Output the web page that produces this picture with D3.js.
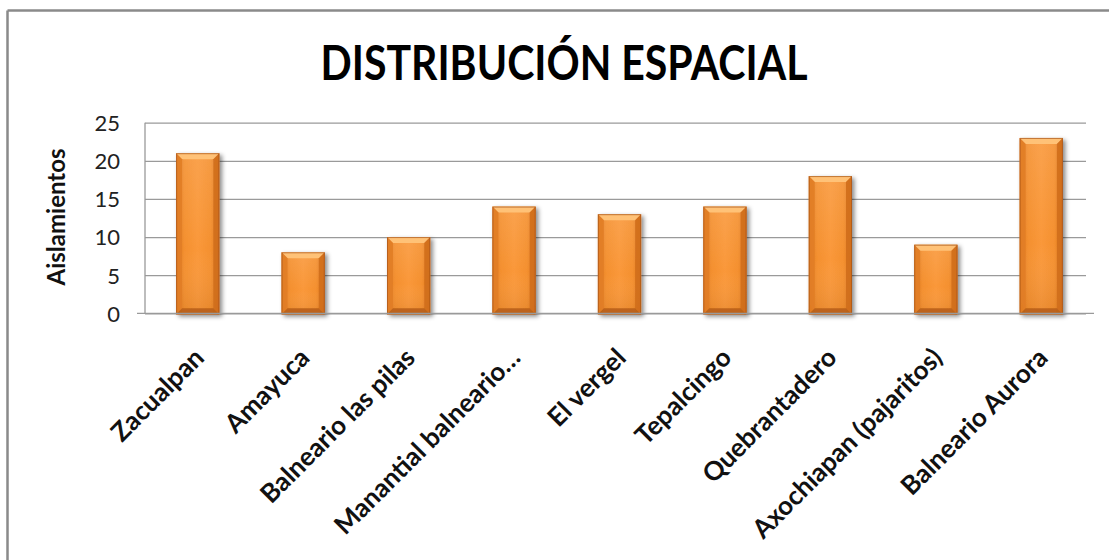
<!DOCTYPE html>
<html>
<head>
<meta charset="utf-8">
<script src="https://cdn.jsdelivr.net/npm/d3@7"></script>
<style>
  html, body { margin: 0; padding: 0; background: #fff; overflow: hidden; }
  svg { display: block; }
</style>
</head>
<body>
<svg id="chart" width="1109" height="560"></svg>
<script>
// Aislamientos por sitio de muestreo
const categories = [
  "Zacualpan", "Amayuca", "Balneario las pilas", "Manantial balneario…",
  "El vergel", "Tepalcingo", "Quebrantadero", "Axochiapan (pajaritos)", "Balneario Aurora"
];
const values = [21, 8, 10, 14, 13, 14, 18, 9, 23];
const yTicks = [0, 5, 10, 15, 20, 25];
const chartTitle = "DISTRIBUCIÓN ESPACIAL";
const yTitle = "Aislamientos";

const svg = d3.select("#chart");
const W = 1109, H = 560;
const plot = { left: 145, right: 1094, top: 122.7, bottom: 313.3 };
const font = "Lato, 'Open Sans', sans-serif";

// chart frame: only its top and left edges fall inside the view
const frame = svg.append("g").attr("stroke", "#8a8a8a").attr("stroke-width", 2.5);
frame.append("line").attr("x1", 7.5).attr("x2", W).attr("y1", 10.5).attr("y2", 10.5);
frame.append("line").attr("x1", 7.5).attr("x2", 7.5).attr("y1", 10.5).attr("y2", H);

const defs = svg.append("defs");
const body = defs.append("linearGradient").attr("id", "barBody")
  .attr("x1", "0").attr("x2", "1").attr("y1", "0").attr("y2", "0");
[["0%", "#e07c25"], ["20%", "#f4902f"], ["50%", "#fa983a"], ["80%", "#f4902f"], ["100%", "#d9741f"]]
  .forEach(([o, c]) => body.append("stop").attr("offset", o).attr("stop-color", c));
const vbody = defs.append("linearGradient").attr("id", "barShade")
  .attr("x1", "0").attr("x2", "0").attr("y1", "0").attr("y2", "1");
[["0%", "#ffffff", 0.10], ["60%", "#ffffff", 0], ["100%", "#7a3a00", 0.12]]
  .forEach(([o, c, a]) => vbody.append("stop").attr("offset", o).attr("stop-color", c).attr("stop-opacity", a));
const shadow = defs.append("filter").attr("id", "barShadow")
  .attr("x", "-20%").attr("y", "-10%").attr("width", "150%").attr("height", "130%");
shadow.append("feDropShadow").attr("dx", 2.5).attr("dy", 2).attr("stdDeviation", 2)
  .attr("flood-color", "#000").attr("flood-opacity", 0.45);

const x = d3.scaleBand().domain(categories)
  .range([plot.left, plot.right]).paddingInner(0.59).paddingOuter(0.295);
const y = d3.scaleLinear().domain([0, 25]).range([plot.bottom, plot.top]);

// gridlines with tick stubs to the left of the value axis
const grid = svg.append("g")
  .attr("transform", `translate(${plot.left},0)`)
  .call(d3.axisLeft(y).tickValues(yTicks).tickSize(-(plot.right - plot.left)).tickFormat(""));
grid.select(".domain").remove();
grid.selectAll(".tick line").attr("stroke", "#9a9a9a").attr("stroke-width", 1.3)
  .attr("x2", -(plot.right - plot.left)).attr("x1", -8)
  .attr("transform", `translate(${plot.right - plot.left},0)`);

// value axis line
svg.append("line")
  .attr("x1", plot.left).attr("x2", plot.left)
  .attr("y1", plot.top).attr("y2", plot.bottom)
  .attr("stroke", "#9a9a9a").attr("stroke-width", 1.3);

// value tick labels
const yAxis = svg.append("g")
  .attr("transform", `translate(${plot.left - 25},0)`)
  .call(d3.axisLeft(y).tickValues(yTicks).tickSize(0).tickPadding(0));
yAxis.select(".domain").remove();
yAxis.selectAll("text")
  .attr("font-family", font).attr("font-size", 22).attr("fill", "#222")
  .attr("dy", "0.36em");

// bars with bevelled edges
const b = 6;
const bars = svg.append("g").selectAll("g").data(values).join("g")
  .attr("filter", "url(#barShadow)");
bars.each(function (v, i) {
  const g = d3.select(this);
  const x0 = x(categories[i]), w = x.bandwidth();
  const y0 = y(v), h = y(0) - y(v) + 1;
  g.append("rect").attr("x", x0).attr("y", y0).attr("width", w).attr("height", h)
    .attr("fill", "url(#barBody)");
  g.append("rect").attr("x", x0).attr("y", y0).attr("width", w).attr("height", h)
    .attr("fill", "url(#barShade)");
  const poly = (pts, fill, op) => g.append("polygon")
    .attr("points", pts.map(p => p.join(",")).join(" "))
    .attr("fill", fill).attr("fill-opacity", op);
  poly([[x0, y0], [x0 + w, y0], [x0 + w - b, y0 + b], [x0 + b, y0 + b]], "#ffc47a", 0.95);
  poly([[x0, y0], [x0 + b, y0 + b], [x0 + b, y0 + h - b], [x0, y0 + h]], "#e17d24", 0.85);
  poly([[x0 + w, y0], [x0 + w - b, y0 + b], [x0 + w - b, y0 + h - b], [x0 + w, y0 + h]], "#cf6c1b", 0.85);
  poly([[x0, y0 + h], [x0 + b, y0 + h - b], [x0 + w - b, y0 + h - b], [x0 + w, y0 + h]], "#b85f18", 0.9);
  g.append("rect").attr("x", x0 + 0.5).attr("y", y0 + 0.5).attr("width", w - 1).attr("height", h - 1)
    .attr("fill", "none").attr("stroke", "#a8561a").attr("stroke-width", 1).attr("stroke-opacity", 0.7);
});

// category axis line
svg.append("line")
  .attr("x1", plot.left - 8).attr("x2", plot.right)
  .attr("y1", plot.bottom).attr("y2", plot.bottom)
  .attr("stroke", "#9a9a9a").attr("stroke-width", 1.3);

// rotated category labels
svg.append("g").selectAll("text").data(categories).join("text")
  .attr("transform", d => `translate(${x(d) + x.bandwidth() / 2 + 8},${plot.bottom + 46}) rotate(-45)`)
  .attr("text-anchor", "end")
  .attr("font-family", font).attr("font-weight", 700).attr("font-size", 26)
  .attr("fill", "#111")
  .text(d => d);

// value axis title
svg.append("text")
  .attr("transform", `translate(65,217) rotate(-90)`)
  .attr("text-anchor", "middle")
  .attr("font-family", font).attr("font-weight", 700).attr("font-size", 24)
  .attr("fill", "#111")
  .text(yTitle);

// chart title
svg.append("text")
  .attr("x", 564).attr("y", 80)
  .attr("text-anchor", "middle")
  .attr("font-family", font).attr("font-weight", 700).attr("font-size", 48)
  .attr("textLength", 487).attr("lengthAdjust", "spacingAndGlyphs")
  .attr("fill", "#000")
  .text(chartTitle);
</script>
</body>
</html>
